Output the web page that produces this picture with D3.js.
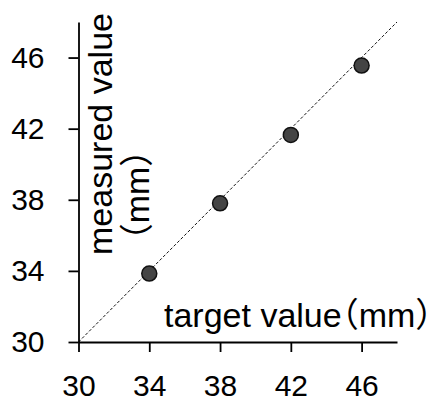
<!DOCTYPE html>
<html><head><meta charset="utf-8">
<script src="https://cdn.jsdelivr.net/npm/d3@7"></script>
<style>
body{margin:0;background:#fff;}
svg{display:block;}
text{font-family:"Liberation Sans","Noto Sans CJK SC",sans-serif;fill:#000;}
.halt{font-feature-settings:"halt" 1;}
</style></head>
<body><svg id="c" width="434" height="403"></svg>
<script>
const targets = [34, 38, 42, 46];
const measured = [33.85, 37.8, 41.65, 45.55];
const tickValues = [30, 34, 38, 42, 46];
const domainMin = 30, domainMax = 48;
const xTitle = "target value（mm）";
const yTitle1 = "measured value";
const yTitle2 = "（mm）";

const svg = d3.select("#c");
const x = d3.scaleLinear().domain([domainMin, domainMax]).range([78.5, 397]);
const y = d3.scaleLinear().domain([domainMin, domainMax]).range([342, 22]);

// reference line y = x
svg.append("line")
  .attr("x1", x(domainMin)).attr("y1", y(domainMin))
  .attr("x2", x(domainMax)).attr("y2", y(domainMax))
  .attr("stroke", "#111").attr("stroke-width", 1).attr("stroke-dasharray", "3,2");

const xAxis = svg.append("g").attr("transform", `translate(0,${y(domainMin)})`)
  .call(d3.axisBottom(x).tickValues(tickValues).tickSize(10).tickSizeOuter(0).tickPadding(23));
const yAxis = svg.append("g").attr("transform", `translate(${x(domainMin)},0)`)
  .call(d3.axisLeft(y).tickValues(tickValues).tickSize(10).tickSizeOuter(0).tickPadding(24));
[xAxis, yAxis].forEach(g => {
  g.select(".domain").attr("stroke", "#000").attr("stroke-width", 1.8);
  g.selectAll(".tick line").attr("stroke", "#000").attr("stroke-width", 1.8);
  g.selectAll(".tick text").attr("font-size", 30).attr("font-family", "'Liberation Sans',sans-serif").attr("fill", "#000");
});

svg.selectAll("circle.pt").data(targets).enter().append("circle")
  .attr("class", "pt")
  .attr("cx", (d) => x(d))
  .attr("cy", (d, i) => y(measured[i]))
  .attr("r", 7.5)
  .attr("fill", "#444")
  .attr("stroke", "#111")
  .attr("stroke-width", 1.5);

svg.append("text").attr("class", "halt").attr("x", 164).attr("y", 327).attr("font-size", 34).text(xTitle);

svg.append("text").attr("transform", "translate(112,134) rotate(-90)")
  .attr("text-anchor", "middle").attr("font-size", 34).text(yTitle1);
svg.append("text").attr("class", "halt").attr("transform", "translate(149,195) rotate(-90)")
  .attr("text-anchor", "middle").attr("font-size", 34).text(yTitle2);
</script></body></html>
